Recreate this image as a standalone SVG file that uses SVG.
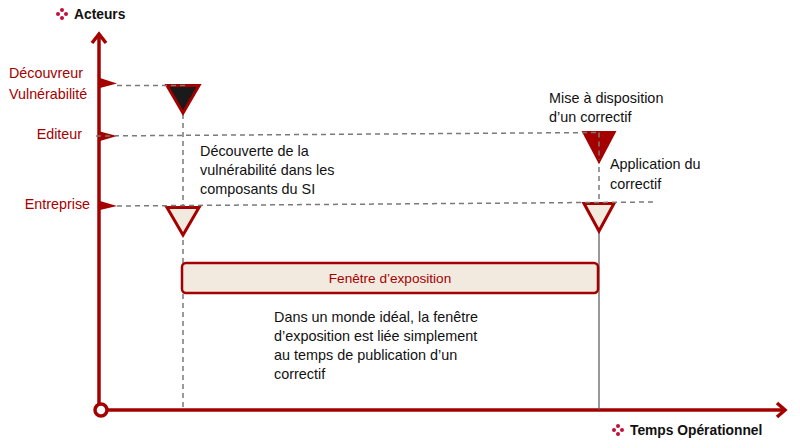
<svg xmlns="http://www.w3.org/2000/svg" width="800" height="448" viewBox="0 0 800 448">
  <style>
    .lbl { font-family: "Liberation Sans", Arial, sans-serif; font-size: 14.3px; fill: #a50000; }
    .win { font-family: "Liberation Sans", Arial, sans-serif; font-size: 13.6px; fill: #a50000; }
    .txt { font-family: "Liberation Sans", Arial, sans-serif; font-size: 14.4px; fill: #111; }
    .ttl { font-family: "Liberation Sans", Arial, sans-serif; font-size: 13.8px; font-weight: bold; fill: #111; }
    .axis { stroke: #a50000; stroke-width: 3.5; fill: none; }
    .dash { stroke: #7a7a7a; stroke-width: 1.5; stroke-dasharray: 5 4; fill: none; }
    .solid { stroke: #555; stroke-width: 1.2; fill: none; }
    .flag { fill: #a50000; }
    .tri { stroke: #a50000; stroke-width: 3; stroke-linejoin: miter; }
    .dot { fill: #c0103a; }
  </style>
  <defs>
    <g id="bullet">
      <circle class="dot" cx="0" cy="-4" r="2"/>
      <circle class="dot" cx="-4" cy="0" r="2"/>
      <circle class="dot" cx="4" cy="0" r="2"/>
      <circle class="dot" cx="0" cy="4" r="2"/>
    </g>
  </defs>

  <!-- axes -->
  <g id="axes">
    <line class="axis" x1="99" y1="404" x2="99" y2="35"/>
    <polyline class="axis" points="92,43 99,34 106,43"/>
    <line class="axis" x1="107" y1="410" x2="784" y2="410"/>
    <polyline class="axis" points="777,403 785,410 777,417"/>
    <circle cx="101" cy="410" r="6" fill="#fff" stroke="#a50000" stroke-width="3.5"/>
  </g>

  <!-- axis titles -->
  <g id="title-acteurs">
    <use href="#bullet" x="62" y="14"/>
    <text class="ttl" x="74" y="19">Acteurs</text>
  </g>
  <g id="title-temps">
    <use href="#bullet" x="618" y="430"/>
    <text class="ttl" x="630" y="435">Temps Opérationnel</text>
  </g>

  <!-- actors -->
  <g id="actor-decouvreur">
    <text class="lbl" x="9" y="78">Découvreur</text>
    <text class="lbl" x="9" y="99">Vulnérabilité</text>
    <polygon class="flag" points="100,78 117,83.5 100,88"/>
  </g>
  <g id="actor-editeur">
    <text class="lbl" x="82" y="139" text-anchor="end">Editeur</text>
    <polygon class="flag" points="100,131.5 117,136 100,141"/>
  </g>
  <g id="actor-entreprise">
    <text class="lbl" x="90" y="209" text-anchor="end">Entreprise</text>
    <polygon class="flag" points="100,201 117,206 100,210"/>
  </g>

  <!-- connectors -->
  <g id="connectors">
    <line class="dash" x1="183" y1="114" x2="183" y2="410"/>
    <line class="dash" x1="599" y1="140" x2="599" y2="202"/>
    <line class="solid" x1="599" y1="232" x2="599" y2="410"/>
  </g>

  <!-- events -->
  <g id="evt-decouverte">
    <polygon class="tri" points="167,85.5 199,85.5 183,113" fill="#1a1a1a"/>
  </g>
  <g id="evt-entreprise-1">
    <polygon class="tri" points="167,207.5 199,207.5 183,235" fill="#f2eadf"/>
  </g>
  <g id="evt-correctif">
    <polygon class="tri" points="584,132.5 614,132.5 599,161" fill="#a50000" stroke-width="2"/>
  </g>
  <g id="evt-entreprise-2">
    <polygon class="tri" points="584,203.5 614,203.5 599,231" fill="#f2eadf"/>
  </g>

  <!-- timelines drawn over the markers -->
  <g id="timelines">
    <line class="dash" x1="117" y1="85.5" x2="186" y2="85.5"/>
    <line class="dash" x1="96" y1="136" x2="599" y2="132.5"/>
    <line class="dash" x1="599" y1="132.5" x2="599" y2="160"/>
    <line class="dash" x1="117" y1="206" x2="655" y2="202"/>
  </g>

  <!-- event notes -->
  <g id="note-decouverte">
    <text class="txt" x="200" y="156">Découverte de la</text>
    <text class="txt" x="200" y="175">vulnérabilité dans les</text>
    <text class="txt" x="200" y="194">composants du SI</text>
  </g>
  <g id="note-mise">
    <text class="txt" x="549" y="103">Mise à disposition</text>
    <text class="txt" x="549" y="122">d’un correctif</text>
  </g>
  <g id="note-application">
    <text class="txt" x="610" y="169">Application du</text>
    <text class="txt" x="610" y="189">correctif</text>
  </g>

  <!-- exposure window -->
  <g id="fenetre">
    <rect x="182" y="263" width="416" height="30" rx="4" fill="#f2eadf" stroke="#a50000" stroke-width="2.5"/>
    <text class="win" x="390" y="283" text-anchor="middle">Fenêtre d’exposition</text>
  </g>

  <g id="note-ideal">
    <text class="txt" x="274" y="322">Dans un monde idéal, la fenêtre</text>
    <text class="txt" x="274" y="341">d’exposition est liée simplement</text>
    <text class="txt" x="274" y="360">au temps de publication d’un</text>
    <text class="txt" x="274" y="379">correctif</text>
  </g>
</svg>
